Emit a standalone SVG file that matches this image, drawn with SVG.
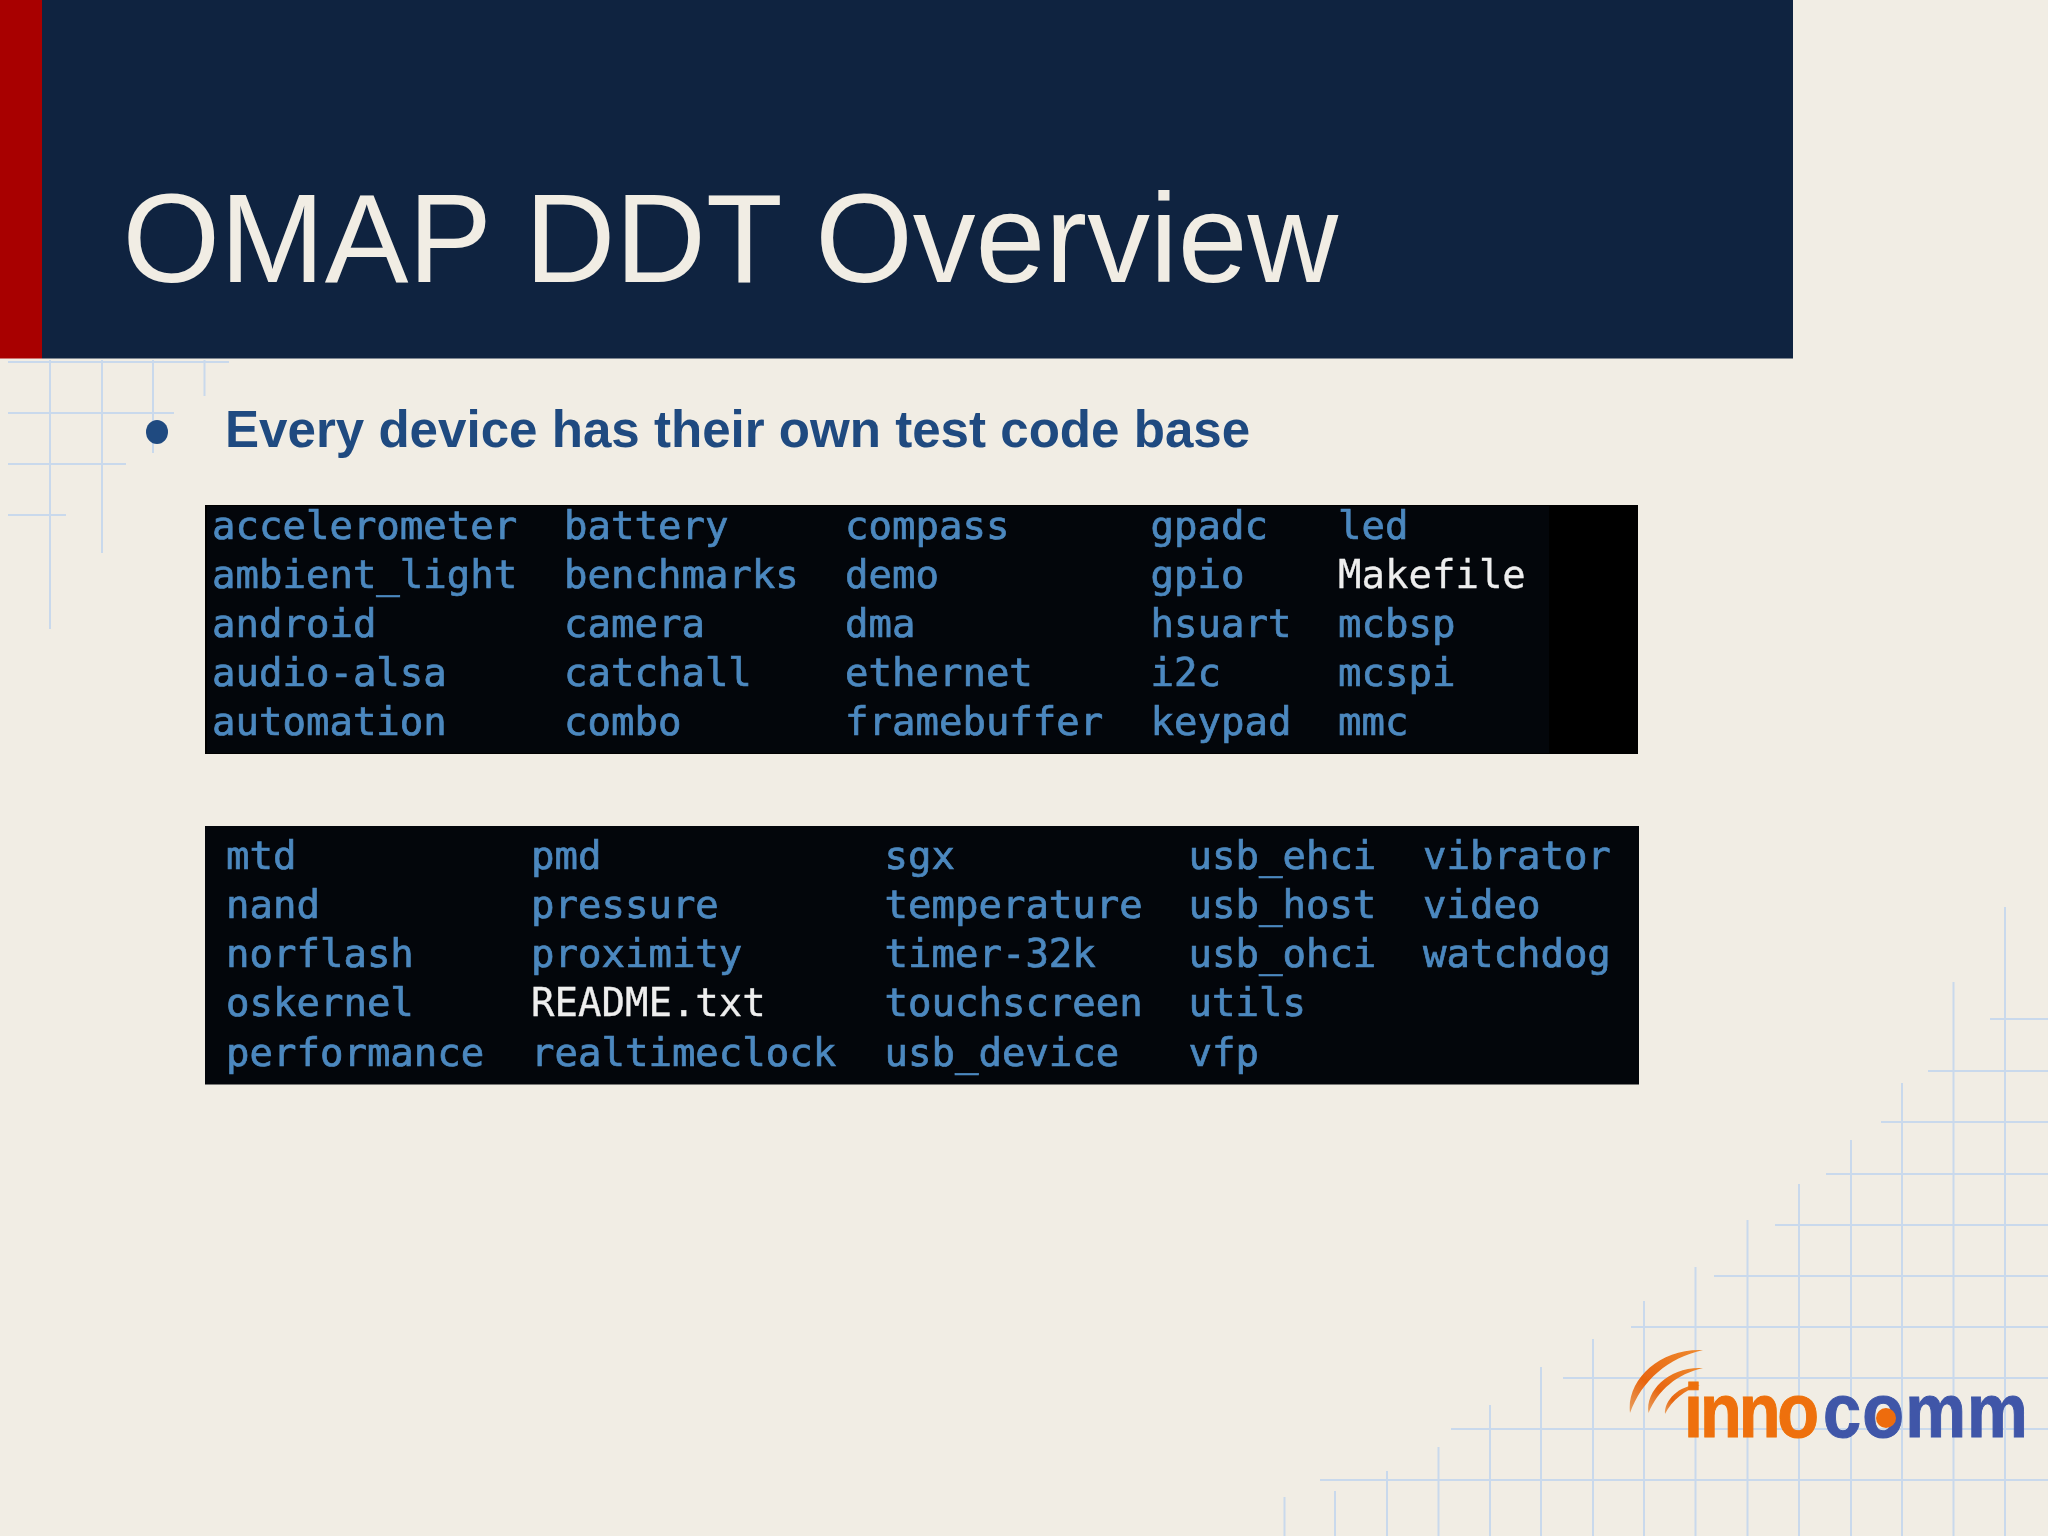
<svg xmlns="http://www.w3.org/2000/svg" width="2048" height="1536" viewBox="0 0 2048 1536">
<style>
.g{stroke:#c9d9ec;stroke-width:2;fill:none}
.m{font-family:"DejaVu Sans Mono","Liberation Mono",monospace;font-size:39px;fill:#4c88bf;stroke:#4c88bf;stroke-width:.7}
.w{fill:#eeeeee;stroke:#eeeeee;stroke-width:.3}
.s{font-family:"Liberation Sans",Arial,sans-serif}
</style>
<defs>
<linearGradient id="og" x1="0" y1="0" x2="1" y2="0"><stop offset="0" stop-color="#f07a08"/><stop offset="0.7" stop-color="#ee7008"/><stop offset="1" stop-color="#e2481a"/></linearGradient>
<linearGradient id="arc" x1="0" y1="1" x2="1" y2="0"><stop offset="0" stop-color="#e8a060"/><stop offset="0.35" stop-color="#e8650f"/><stop offset="1" stop-color="#ee8a30"/></linearGradient>
<filter id="soft" x="-2%" y="-2%" width="104%" height="104%"><feGaussianBlur stdDeviation="0.6"/></filter>
</defs>
<rect id="background" width="2048" height="1536" fill="#f1ede4"/>
<g id="grid-top-left" class="g">
<path d="M8 362H229M8 413H174M8 464H126M8 515H66M50 360V629M102 360V553M153 360V453M204.500 360V396"/>
</g>
<g id="grid-bottom-right" class="g">
<path d="M1990 1019H2048M1928 1071H2048M1881 1122H2048M1826 1174H2048M1775 1225H2048M1714 1276H2048M1631 1327H2048M1563 1378H2048M1451 1429H2048M1320 1480H2048"/>
<path d="M1284.500 1497V1536M1335 1491V1536M1387 1471V1536M1438.500 1447V1536M1490 1405V1536M1541 1367V1536M1593 1339V1536M1644 1301V1536M1695.500 1267V1536M1747.500 1220V1536M1799 1184V1536M1851 1140V1536M1902 1083V1536M1953.500 982V1536M2005 907V1536"/>
</g>
<g id="header">
<rect x="42" y="0" width="1751" height="358.500" fill="#0f2340"/>
<rect x="0" y="0" width="42" height="358.500" fill="#a80000"/>
<text class="s" x="122.500" y="282" font-size="125.500px" fill="#f1ede4">OMAP DDT Overview</text>
</g>
<g id="bullet">
<ellipse cx="157" cy="432" rx="11" ry="12" fill="#1f4a80"/>
<text class="s" x="225" y="447" font-size="51.100px" font-weight="700" fill="#1f4a80">Every device has their own test code base</text>
</g>
<g id="panel-1">
<rect x="205" y="505" width="1433" height="249" fill="#000000"/>
<rect x="207" y="506" width="1342" height="247" fill="#03060b"/>
<g class="m" filter="url(#soft)">
<text x="212" y="539">accelerometer</text><text x="212" y="588">ambient_light</text><text x="212" y="637">android</text><text x="212" y="686">audio-alsa</text><text x="212" y="735">automation</text>
<text x="564" y="539">battery</text><text x="564" y="588">benchmarks</text><text x="564" y="637">camera</text><text x="564" y="686">catchall</text><text x="564" y="735">combo</text>
<text x="845" y="539">compass</text><text x="845" y="588">demo</text><text x="845" y="637">dma</text><text x="845" y="686">ethernet</text><text x="845" y="735">framebuffer</text>
<text x="1150.500" y="539">gpadc</text><text x="1150.500" y="588">gpio</text><text x="1150.500" y="637">hsuart</text><text x="1150.500" y="686">i2c</text><text x="1150.500" y="735">keypad</text>
<text x="1338" y="539">led</text><text class="w" x="1338" y="588">Makefile</text><text x="1338" y="637">mcbsp</text><text x="1338" y="686">mcspi</text><text x="1338" y="735">mmc</text>
</g>
</g>
<g id="panel-2">
<rect x="205" y="826" width="1434" height="258.500" fill="#03060b"/>
<g class="m" filter="url(#soft)">
<text x="226" y="868.500">mtd</text><text x="226" y="917.500">nand</text><text x="226" y="967">norflash</text><text x="226" y="1016">oskernel</text><text x="226" y="1065.500">performance</text>
<text x="531" y="868.500">pmd</text><text x="531" y="917.500">pressure</text><text x="531" y="967">proximity</text><text class="w" x="531" y="1016">README.txt</text><text x="531" y="1065.500">realtimeclock</text>
<text x="884.500" y="868.500">sgx</text><text x="884.500" y="917.500">temperature</text><text x="884.500" y="967">timer-32k</text><text x="884.500" y="1016">touchscreen</text><text x="884.500" y="1065.500">usb_device</text>
<text x="1188.500" y="868.500">usb_ehci</text><text x="1188.500" y="917.500">usb_host</text><text x="1188.500" y="967">usb_ohci</text><text x="1188.500" y="1016">utils</text><text x="1188.500" y="1065.500">vfp</text>
<text x="1423" y="868.500">vibrator</text><text x="1423" y="917.500">video</text><text x="1423" y="967">watchdog</text>
</g>
</g>
<g id="logo" filter="url(#soft)">
<path fill="url(#arc)" d="M1630 1413C1626 1380 1660 1348 1703 1350C1668 1358 1642 1380 1630 1413Z"/>
<path fill="url(#arc)" d="M1648.500 1413C1645 1390 1670 1366 1703 1368C1677 1374 1658 1390 1648.500 1413Z"/>
<path fill="url(#arc)" d="M1665 1414C1664 1400 1680 1384 1700 1385C1685 1390 1672 1400 1665 1414Z"/>
<text class="s" transform="translate(1684 1437) scale(.9 1)" font-size="76px" font-weight="700"><tspan fill="#ee7008" stroke="#ee7008" letter-spacing="-3.4">inno</tspan><tspan dx="7.800" fill="#3f57a8" stroke="#3f57a8" letter-spacing="1.250">comm</tspan></text>
<circle cx="1886" cy="1418" r="10" fill="#ee6c10"/>
</g>
</svg>
